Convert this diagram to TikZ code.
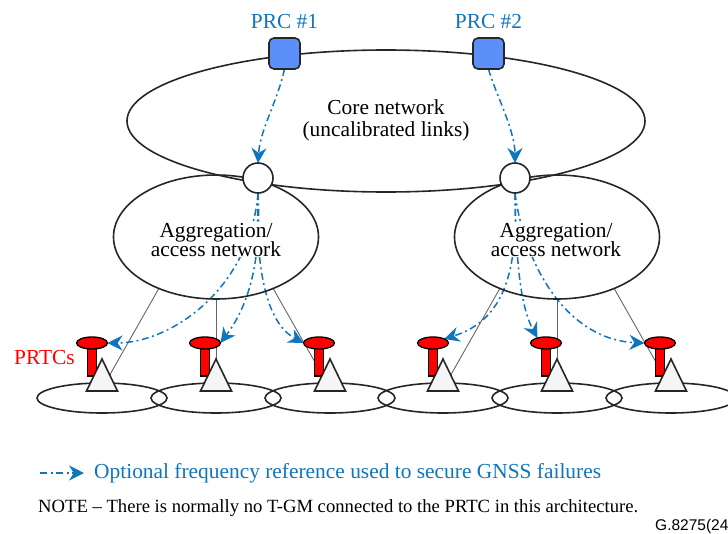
\documentclass[tikz,border=0pt]{standalone}
\usepackage{fontspec}
\setmainfont{Liberation Serif}
\newfontfamily\capfont{Liberation Sans}
\usetikzlibrary{shapes.geometric,arrows.meta,backgrounds}
\definecolor{refblue}{HTML}{0F75BD}
\definecolor{boxblue}{HTML}{5B8FF9}
\tikzset{every picture/.style={x=1pt,y=-1pt},
  net/.style={draw=black!85,ellipse,line width=1.6pt,inner sep=0pt,outer sep=0pt},
  prcbox/.style={draw=black!85,fill=boxblue,line width=1.6pt,rectangle,rounded corners=5pt,minimum size=31pt,inner sep=0pt,outer sep=0pt},
  joint/.style={draw=black!85,fill=white,line width=1.6pt,circle,minimum size=30pt,inner sep=0pt,outer sep=0pt},
  stem/.style={draw=black,fill=red,line width=1.3pt,rectangle,minimum width=9pt,minimum height=28pt,inner sep=0pt,outer sep=0pt},
  head/.style={draw=black,fill=red,line width=1.3pt,ellipse,minimum width=31pt,minimum height=12pt,inner sep=0pt,outer sep=0pt},
  gm/.style={draw=black!85,fill=white!96!black,line width=1.6pt,isosceles triangle,shape border rotate=90,isosceles triangle stretches,minimum width=31pt,minimum height=32pt,inner sep=0pt,outer sep=0pt,anchor=lower side},
  link/.style={draw=black!60,line width=0.9pt},
  ref/.style={draw=refblue,line width=1.5pt,dash pattern=on 7pt off 3.5pt on 2pt off 3.5pt,-{Stealth[length=15pt,width=15pt]}},
  title/.style={font=\fontsize{21.4}{23}\selectfont,text=refblue,inner sep=0pt},
  label/.style={font=\fontsize{21.4}{22}\selectfont,align=center,inner sep=1pt}}

\begin{document}
\begin{tikzpicture}
  \useasboundingbox (0,0) rectangle (728,533);
  \node (core) [net,minimum width=518pt,minimum height=142pt] at (386,121) {};
  \node (a1) [net,minimum width=205pt,minimum height=124pt] at (216,237) {};
  \node (a2) [net,minimum width=205pt,minimum height=124pt] at (557,237) {};
  \node (e1) [net,minimum width=130pt,minimum height=30pt] at (102,398) {};
  \node (e2) [net,minimum width=130pt,minimum height=30pt] at (216,398) {};
  \node (e3) [net,minimum width=130pt,minimum height=30pt] at (330,398) {};
  \node (e4) [net,minimum width=130pt,minimum height=30pt] at (443,398) {};
  \node (e5) [net,minimum width=130pt,minimum height=30pt] at (557,398) {};
  \node (e6) [net,minimum width=130pt,minimum height=30pt] at (671,398) {};
  \node (s1) [stem] at (92,362) {};
  \node (s2) [stem] at (205,362) {};
  \node (s3) [stem] at (319,362) {};
  \node (s4) [stem] at (433,362) {};
  \node (s5) [stem] at (546,362) {};
  \node (s6) [stem] at (660,362) {};
  \node (h1) [head] at (92,343) {};
  \node (h2) [head] at (205,343) {};
  \node (h3) [head] at (319,343) {};
  \node (h4) [head] at (433,343) {};
  \node (h5) [head] at (546,343) {};
  \node (h6) [head] at (660,343) {};
  \node (t1) [gm] at (102,391) {};
  \node (t2) [gm] at (216,391) {};
  \node (t3) [gm] at (330,391) {};
  \node (t4) [gm] at (443,391) {};
  \node (t5) [gm] at (557,391) {};
  \node (t6) [gm] at (671,391) {};
  \node (c1) [joint] at (258,178) {};
  \node (c2) [joint] at (515,178) {};
  \node (p1) [prcbox] at (284.5,53.5) {};
  \node (p2) [prcbox] at (488.5,53.5) {};
  \node (l1) [title] at (284.5,22) {PRC \#1};
  \node (l2) [title] at (488.5,22) {PRC \#2};
  \node (corelabel) [label] at (386,120) {Core network\\(uncalibrated links)};
  \node (a1label) [label,fill=white] at (216,240) {Aggregation/\\[-3.5pt]access network};
  \node (a2label) [label,fill=white] at (556,240) {Aggregation/\\[-3.5pt]access network};
  \node (prtc) [title,text=red,anchor=west] at (14,358) {PRTCs};
  \coordinate (k0) at (40,473);
  \node (keytext) [title,anchor=west] at (94,473) {Optional frequency reference used to secure GNSS failures};
  \node (note) [inner sep=0pt,anchor=west,font=\fontsize{18.65}{20}\selectfont] at (38,508) {NOTE -- There is normally no T-GM connected to the PRTC in this architecture.};
  \node (fig) [inner sep=0pt,anchor=west,font=\capfont\fontsize{15.5}{17}\selectfont] at (655,526) {G.8275(24};
  \begin{scope}[on background layer]
    \draw [link] (a1.222) -- (t1.right side);
    \draw [link] (a1.south) -- (t2.apex);
    \draw [link] (a1.318) -- (t3.left side);
    \draw [link] (a2.222) -- (t4.right side);
    \draw [link] (a2.south) -- (t5.apex);
    \draw [link] (a2.318) -- (t6.left side);
    \draw [ref] (p1.south) .. controls (278,100) and (260,130) .. (c1.north);
    \draw [ref] (p2.south) .. controls (494,90) and (515,130) .. (c2.north);
    \draw [ref] (c1.south) .. controls (250,290) and (170,343) .. (h1.east);
    \draw [ref] (c1.south) .. controls (262,270) and (245,310) .. (h2.east);
    \draw [ref] (c1.south) .. controls (255,280) and (270,325) .. (h3.west);
    \draw [ref] (c2.south) .. controls (518,270) and (505,320) .. (h4.20);
    \draw [ref] (c2.south) .. controls (516,260) and (520,305) .. (h5.150);
    \draw [ref] (c2.south) .. controls (525,270) and (570,340) .. (h6.west);
    \draw [ref] (k0) -- (keytext.west -| 84,473);
  \end{scope}
\end{tikzpicture}
\end{document}
